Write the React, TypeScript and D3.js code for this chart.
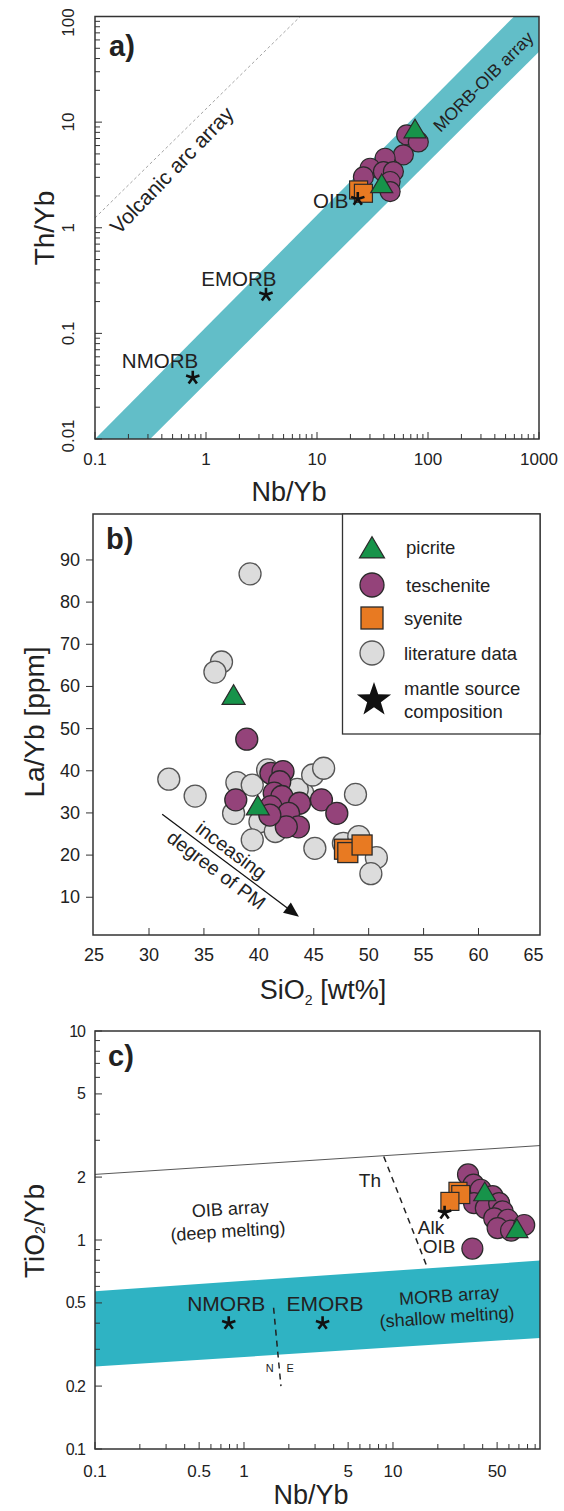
import React from 'react';
import * as d3 from 'd3';

const FONT = '"Liberation Sans", Arial, Helvetica, sans-serif';

// ---------- Panel a: Th/Yb vs Nb/Yb ----------
const aTeschNb = [64.3, 81.8, 60, 41.1, 30.1, 39.7, 48.8, 45.6, 45.6, 26.2];
const aTeschTh = [7.57, 6.5, 4.9, 4.55, 3.66, 3.4, 3.4, 2.74, 2.2, 3.03];
const aPicNb = [76.4, 38.3];
const aPicTh = [8.43, 2.55];
const aSyeNb = [23.7, 26.2];
const aSyeTh = [2.28, 2.12];
const aSrcNames = ['NMORB', 'EMORB', 'OIB'];
const aSrcNb = [0.76, 3.47, 23.3];
const aSrcTh = [0.038, 0.232, 1.87];
const aBandNb = [0.1, 596, 1000, 1000, 0.314];
const aBandTh = [0.01, 100, 100, 46.5, 0.01];
const aArcNb = [0.1, 7.06];
const aArcTh = [1.24, 100];
const aTickLabels = ['0.1', '1', '10', '100', '1000'];
const aYTickLabels = ['0.01', '0.1', '1', '10', '100'];

// ---------- Panel b: La/Yb vs SiO2 ----------
const bLitSi = [39.2, 36.6, 36.0, 31.8, 34.2, 38.0, 39.4, 40.8, 37.7, 40.1, 39.4, 41.5, 44.0, 43.5, 44.9, 45.9, 45.1, 48.8, 47.7, 49.1, 50.7, 50.2];
const bLitLa = [86.7, 65.8, 63.4, 38.0, 34.0, 37.2, 36.6, 40.2, 29.9, 27.9, 23.6, 25.6, 34.7, 35.6, 39.0, 40.6, 21.6, 34.4, 22.8, 24.4, 19.4, 15.6];
const bTeschSi = [38.9, 37.9, 41.1, 42.2, 41.9, 41.4, 42.1, 41.1, 43.7, 42.7, 43.6, 42.5, 45.7, 47.1, 41.0];
const bTeschLa = [47.5, 33.1, 39.4, 39.8, 37.4, 34.7, 33.9, 31.5, 32.3, 29.9, 26.7, 26.7, 33.1, 29.9, 29.5];
const bPicSi = [37.7, 39.9];
const bPicLa = [57.7, 31.5];
const bSyeSi = [47.8, 48.1, 49.4];
const bSyeLa = [21.4, 20.6, 22.4];
const bArrowSi = [31.2, 43.65];
const bArrowLa = [29.7, 5.4];
const bXTicks = [25, 30, 35, 40, 45, 50, 55, 60, 65];
const bYTicks = [10, 20, 30, 40, 50, 60, 70, 80, 90];
const legendLabels = ['picrite', 'teschenite', 'syenite', 'literature data', 'mantle source', 'composition'];

// ---------- Panel c: TiO2/Yb vs Nb/Yb ----------
const cTeschNb = [31.9, 34.7, 38.8, 46.6, 35.0, 42.0, 51.6, 54.4, 47.8, 59, 50.4, 62, 76, 34.1];
const cTeschTi = [2.06, 1.84, 1.74, 1.62, 1.50, 1.42, 1.50, 1.37, 1.27, 1.25, 1.14, 1.11, 1.18, 0.91];
const cPicNb = [41.3, 67.9];
const cPicTi = [1.68, 1.12];
const cSyeNb = [27.3, 28.5, 24.1];
const cSyeTi = [1.71, 1.65, 1.53];
const cSrcNb = [0.79, 3.37, 22.2];
const cSrcTi = [0.40, 0.40, 1.35];
const cOibLineNb = [0.1, 97];
const cOibLineTi = [2.06, 2.83];
const cBandNb = [0.1, 97, 97, 0.1];
const cBandTi = [0.569, 0.797, 0.34, 0.248];
const cThLineNb = [8.67, 17.1];
const cThLineTi = [2.51, 0.73];
const cNELineNb = [1.58, 1.77];
const cNELineTi = [0.474, 0.2];
const cXTickVals = [0.1, 0.5, 1, 5, 10, 50];
const cXTickLabels = ['0.1', '0.5', '1', '5', '10', '50'];
const cYTickVals = [0.1, 0.2, 0.5, 1, 2, 5, 10];
const cYTickLabels = ['0.1', '0.2', '0.5', '1', '2', '5', '10'];

const PURPLE = '#94437a';
const GREEN = '#17934a';
const ORANGE = '#e87a22';
const GREY = '#dcdcdc';
const STROKE = '#2a2a2a';
const AXIS = '#333';

const tri = (cx: number, cy: number, w: number) => {
  const h = w * 0.85;
  return `M${cx - w / 2},${cy + h * 0.42}L${cx + w / 2},${cy + h * 0.42}L${cx},${cy - h * 0.58}Z`;
};

const starPath = (cx: number, cy: number, R: number, r: number) => {
  const pts: string[] = [];
  for (let i = 0; i < 10; i++) {
    const a = -Math.PI / 2 + (i * Math.PI) / 5;
    const rr = i % 2 === 0 ? R : r;
    pts.push(`${cx + rr * Math.cos(a)},${cy + rr * Math.sin(a)}`);
  }
  return 'M' + pts.join('L') + 'Z';
};

const Asterisk = ({ x, y, s = 7 }: { x: number; y: number; s?: number }) => {
  let d = '';
  for (let k = 0; k < 5; k++) {
    const a = -Math.PI / 2 + (k * 2 * Math.PI) / 5;
    d += `M${x},${y}L${x + s * Math.cos(a)},${y + s * Math.sin(a)}`;
  }
  return <path d={d} stroke="#111" strokeWidth={2.6} strokeLinecap="butt" fill="none" />;
};

function PanelA() {
  const L = 95, R = 539, T = 16.5, B = 439;
  const x = d3.scaleLog().domain([0.1, 1000]).range([L, R]);
  const y = d3.scaleLog().domain([0.01, 100]).range([B, T]);
  const xt = x.ticks();
  const yt = y.ticks();
  const band = aBandNb.map((v, i) => [x(v), y(aBandTh[i])] as [number, number]);
  const lbl = (v: number) => Math.abs(Math.log10(v) - Math.round(Math.log10(v))) < 1e-6;
  return (
    <g>
      <defs>
        <clipPath id="clipA"><rect x={L} y={T} width={R - L} height={B - T} /></clipPath>
      </defs>
      <g clipPath="url(#clipA)">
        <path d={d3.line()(band)! + 'Z'} fill="#62bec8" />
        <line x1={x(aArcNb[0])} y1={y(aArcTh[0])} x2={x(aArcNb[1])} y2={y(aArcTh[1])} stroke="#9a9a9a" strokeWidth={0.9} strokeDasharray="3,2.5" />
      </g>
      {xt.map((v, i) => (
        <line key={'xt' + i} x1={x(v)} x2={x(v)} y1={B} y2={B - (lbl(v) ? 7 : 5)} stroke={AXIS} strokeWidth={1} />
      ))}
      {yt.map((v, i) => (
        <line key={'yt' + i} x1={L} x2={L + (lbl(v) ? 7 : 5)} y1={y(v)} y2={y(v)} stroke={AXIS} strokeWidth={1} />
      ))}
      <rect x={L} y={T} width={R - L} height={B - T} fill="none" stroke={AXIS} strokeWidth={1.5} />
      {[0.1, 1, 10, 100, 1000].map((v, i) => (
        <text key={'xl' + i} x={x(v)} y={465} textAnchor="middle" fontSize={17} fontFamily={FONT} fill="#222">{aTickLabels[i]}</text>
      ))}
      {[0.01, 0.1, 1, 10, 100].map((v, i) => {
        const yy = Math.min(Math.max(y(v), T + 6), B - 3);
        return (
          <text key={'yl' + i} transform={`translate(74,${yy}) rotate(-90)`} textAnchor="middle" fontSize={17} fontFamily={FONT} fill="#222">{aYTickLabels[i]}</text>
        );
      })}
      <text transform={`translate(54,228) rotate(-90)`} textAnchor="middle" fontSize={28} fontFamily={FONT} fill="#222">Th/Yb</text>
      <text x={289} y={501} textAnchor="middle" fontSize={27} fontFamily={FONT} fill="#222">Nb/Yb</text>
      <text x={L + 14} y={T + 39} fontSize={29} fontWeight="bold" fontFamily={FONT} fill="#222">a)</text>
      <text transform={`translate(${x(0.49)},${y(3.52)}) rotate(-46)`} textAnchor="middle" dominantBaseline="central" fontSize={21} fontFamily={FONT} fill="#222">Volcanic arc array</text>
      <text transform={`translate(${x(315)},${y(24.1)}) rotate(-45)`} textAnchor="middle" dominantBaseline="central" fontSize={17.5} fontFamily={FONT} fill="#222">MORB-OIB array</text>
      {aTeschNb.map((v, i) => (
        <circle key={'ac' + i} cx={x(v)} cy={y(aTeschTh[i])} r={10} fill={PURPLE} stroke={STROKE} strokeWidth={1.2} />
      ))}
      {aSyeNb.map((v, i) => (
        <rect key={'as' + i} x={x(v) - 9} y={y(aSyeTh[i]) - 9} width={18} height={18} fill={ORANGE} stroke={STROKE} strokeWidth={1.2} />
      ))}
      {aPicNb.map((v, i) => (
        <path key={'at' + i} d={tri(x(v), y(aPicTh[i]), 22)} fill={GREEN} stroke={STROKE} strokeWidth={1.2} />
      ))}
      {aSrcNb.map((v, i) => (
        <Asterisk key={'aa' + i} x={x(v)} y={y(aSrcTh[i])} />
      ))}
      <text x={x(0.385)} y={y(0.055)} textAnchor="middle" dominantBaseline="central" fontSize={20.5} fontFamily={FONT} fill="#222">{aSrcNames[0]}</text>
      <text x={x(1.98)} y={y(0.332)} textAnchor="middle" dominantBaseline="central" fontSize={20.5} fontFamily={FONT} fill="#222">{aSrcNames[1]}</text>
      <text x={x(13.3)} y={y(1.83)} textAnchor="middle" dominantBaseline="central" fontSize={20.5} fontFamily={FONT} fill="#222">{aSrcNames[2]}</text>
    </g>
  );
}

function PanelB() {
  const L = 93, R = 540, T = 514, B = 935;
  const x = d3.scaleLinear().domain([24.9, 65.6]).range([L, R]);
  const y = d3.scaleLinear().domain([1.05, 100.9]).range([B, T]);
  const ax1 = x(bArrowSi[0]), ay1 = y(bArrowLa[0]), ax2 = x(bArrowSi[1]), ay2 = y(bArrowLa[1]);
  const ang = Math.atan2(ay2 - ay1, ax2 - ax1);
  const deg = (ang * 180) / Math.PI;
  const hl = 15, hw = 6.5;
  const bx = ax2 - hl * Math.cos(ang), by = ay2 - hl * Math.sin(ang);
  const head = `M${ax2},${ay2}L${bx + hw * Math.sin(ang)},${by - hw * Math.cos(ang)}L${bx - hw * Math.sin(ang)},${by + hw * Math.cos(ang)}Z`;
  const lgX = 342.5, lgSym = 372, lgTxt = 404;
  return (
    <g>
      {bYTicks.map((v, i) => (
        <g key={'yt' + i}>
          <line x1={L - 7} x2={L} y1={y(v)} y2={y(v)} stroke={AXIS} strokeWidth={1} />
          <text x={80} y={y(v)} textAnchor="end" dominantBaseline="central" fontSize={18} fontFamily={FONT} fill="#222">{v}</text>
        </g>
      ))}
      {bXTicks.map((v, i) => (
        <g key={'xt' + i}>
          {i > 0 && i < bXTicks.length - 1 && <line x1={x(v)} x2={x(v)} y1={B} y2={B - 7} stroke={AXIS} strokeWidth={1} />}
          <text x={x(v)} y={955} textAnchor="middle" dominantBaseline="central" fontSize={18} fontFamily={FONT} fill="#222">{v}</text>
        </g>
      ))}
      <rect x={L} y={T} width={R - L} height={B - T} fill="none" stroke={AXIS} strokeWidth={1.5} />
      <text transform={`translate(34,722) rotate(-90)`} textAnchor="middle" dominantBaseline="central" fontSize={28} fontFamily={FONT} fill="#222">La/Yb [ppm]</text>
      <text x={323} y={999} textAnchor="middle" fontSize={27} fontFamily={FONT} fill="#222">SiO<tspan fontSize={14} dy={6}>2</tspan><tspan dy={-6}> [wt%]</tspan></text>
      <text x={L + 13} y={T + 35} fontSize={29} fontWeight="bold" fontFamily={FONT} fill="#222">b)</text>
      {bLitSi.map((v, i) => (
        <circle key={'bl' + i} cx={x(v)} cy={y(bLitLa[i])} r={11} fill={GREY} stroke="#555" strokeWidth={1.3} />
      ))}
      {bTeschSi.map((v, i) => (
        <circle key={'bc' + i} cx={x(v)} cy={y(bTeschLa[i])} r={11} fill={PURPLE} stroke={STROKE} strokeWidth={1.3} />
      ))}
      {bPicSi.map((v, i) => (
        <path key={'bt' + i} d={tri(x(v), y(bPicLa[i]), 23)} fill={GREEN} stroke={STROKE} strokeWidth={1.2} />
      ))}
      {bSyeSi.map((v, i) => (
        <rect key={'bs' + i} x={x(v) - 10} y={y(bSyeLa[i]) - 10} width={20} height={20} fill={ORANGE} stroke={STROKE} strokeWidth={1.3} />
      ))}
      <line x1={ax1} y1={ay1} x2={bx} y2={by} stroke="#111" strokeWidth={1.3} />
      <path d={head} fill="#111" />
      <text transform={`translate(${x(37.5)},${y(21.2)}) rotate(${deg})`} textAnchor="middle" dominantBaseline="central" fontSize={19.5} fontFamily={FONT} fill="#222">inceasing</text>
      <text transform={`translate(${x(36.15)},${y(16.5)}) rotate(${deg})`} textAnchor="middle" dominantBaseline="central" fontSize={19.5} fontFamily={FONT} fill="#222">degree of PM</text>
      <rect x={lgX} y={T} width={R - lgX} height={220} fill="#fff" stroke={AXIS} strokeWidth={1.3} />
      <path d={tri(lgSym, 549, 25)} fill={GREEN} stroke={STROKE} strokeWidth={1.2} />
      <circle cx={lgSym} cy={585} r={12} fill={PURPLE} stroke={STROKE} strokeWidth={1.3} />
      <rect x={lgSym - 11} y={607} width={22} height={22} fill={ORANGE} stroke={STROKE} strokeWidth={1.3} />
      <circle cx={lgSym} cy={653} r={12} fill={GREY} stroke="#555" strokeWidth={1.3} />
      <path d={starPath(lgSym + 2, 700, 18, 7.2)} fill="#111" />
      {[547, 585, 618, 653, 688, 711].map((yy, i) => (
        <text key={'lg' + i} x={lgTxt + (i === 0 || i === 1 ? 2 : 0)} y={yy} dominantBaseline="central" fontSize={18.5} fontFamily={FONT} fill="#222">{legendLabels[i]}</text>
      ))}
    </g>
  );
}

function PanelC() {
  const L = 95, R = 540, T = 1031, B = 1449;
  const x = d3.scaleLog().domain([0.1, 97]).range([L, R]);
  const y = d3.scaleLog().domain([0.1, 10]).range([B, T]);
  const xt = x.ticks();
  const yt = y.ticks();
  const isMajX = (v: number) => cXTickVals.some((t) => Math.abs(t - v) / t < 1e-6);
  const isMajY = (v: number) => cYTickVals.some((t) => Math.abs(t - v) / t < 1e-6);
  const band = cBandNb.map((v, i) => [x(v), y(cBandTi[i])] as [number, number]);
  const rot = (Math.atan2(y(cBandTi[1]) - y(cBandTi[0]), x(cBandNb[1]) - x(cBandNb[0])) * 180) / Math.PI;
  const rot2 = (Math.atan2(y(cOibLineTi[1]) - y(cOibLineTi[0]), x(cOibLineNb[1]) - x(cOibLineNb[0])) * 180) / Math.PI;
  const T15 = { fontSize: 18, fontFamily: FONT, fill: '#222' };
  return (
    <g>
      <path d={d3.line()(band)! + 'Z'} fill="#2fb3c3" />
      <line x1={x(cOibLineNb[0])} y1={y(cOibLineTi[0])} x2={x(cOibLineNb[1])} y2={y(cOibLineTi[1])} stroke="#444" strokeWidth={0.9} />
      <line x1={x(cThLineNb[0])} y1={y(cThLineTi[0])} x2={x(cThLineNb[1])} y2={y(cThLineTi[1])} stroke="#222" strokeWidth={1.5} strokeDasharray="6,5" />
      <line x1={x(cNELineNb[0])} y1={y(cNELineTi[0])} x2={x(cNELineNb[1])} y2={y(cNELineTi[1])} stroke="#222" strokeWidth={1.5} strokeDasharray="6,5" />
      {xt.map((v, i) => (
        <line key={'xt' + i} x1={x(v)} x2={x(v)} y1={B} y2={B - (isMajX(v) ? 7 : 5)} stroke={AXIS} strokeWidth={1} />
      ))}
      {yt.map((v, i) => (
        <line key={'yt' + i} x1={L} x2={L + (isMajY(v) ? 7 : 5)} y1={y(v)} y2={y(v)} stroke={AXIS} strokeWidth={1} />
      ))}
      <rect x={L} y={T} width={R - L} height={B - T} fill="none" stroke={AXIS} strokeWidth={1.5} />
      {cXTickVals.map((v, i) => (
        <text key={'xl' + i} x={x(v)} y={1471} textAnchor="middle" dominantBaseline="central" fontSize={17} fontFamily={FONT} fill="#222">{cXTickLabels[i]}</text>
      ))}
      {cYTickVals.map((v, i) => (
        <text key={'yl' + i} x={85} y={y(v)} textAnchor="end" dominantBaseline="central" fontSize={16} letterSpacing={-1} fontFamily={FONT} fill="#222">{cYTickLabels[i]}</text>
      ))}
      <text transform={`translate(34,1231) rotate(-90)`} textAnchor="middle" dominantBaseline="central" fontSize={28} fontFamily={FONT} fill="#222">TiO<tspan fontSize={14} dy={6}>2</tspan><tspan dy={-6}>/Yb</tspan></text>
      <text x={311} y={1504} textAnchor="middle" fontSize={27} fontFamily={FONT} fill="#222">Nb/Yb</text>
      <text x={L + 13} y={T + 35} fontSize={29} fontWeight="bold" fontFamily={FONT} fill="#222">c)</text>
      <text x={x(7.0)} y={y(1.92)} textAnchor="middle" dominantBaseline="central" fontSize={19} fontFamily={FONT} fill="#222">Th</text>
      <text transform={`translate(${x(0.81)},${y(1.41)}) rotate(${rot2})`} textAnchor="middle" dominantBaseline="central" {...T15}>OIB array</text>
      <text transform={`translate(${x(0.78)},${y(1.10)}) rotate(${rot2})`} textAnchor="middle" dominantBaseline="central" {...T15}>(deep melting)</text>
      <text transform={`translate(${x(23.8)},${y(0.542)}) rotate(${rot})`} textAnchor="middle" dominantBaseline="central" {...T15}>MORB array</text>
      <text transform={`translate(${x(23.0)},${y(0.428)}) rotate(${rot})`} textAnchor="middle" dominantBaseline="central" {...T15}>(shallow melting)</text>
      <text x={x(0.76)} y={y(0.498)} textAnchor="middle" dominantBaseline="central" fontSize={21} fontFamily={FONT} fill="#222">NMORB</text>
      <text x={x(3.5)} y={y(0.498)} textAnchor="middle" dominantBaseline="central" fontSize={21} fontFamily={FONT} fill="#222">EMORB</text>
      <text x={x(18.0)} y={y(1.15)} textAnchor="middle" dominantBaseline="central" fontSize={19} fontFamily={FONT} fill="#222">Alk</text>
      <text x={x(20.4)} y={y(0.936)} textAnchor="middle" dominantBaseline="central" fontSize={19} fontFamily={FONT} fill="#222">OIB</text>
      <text x={x(1.49)} y={y(0.245)} textAnchor="middle" dominantBaseline="central" fontSize={11} fontFamily={FONT} fill="#222">N</text>
      <text x={x(2.04)} y={y(0.245)} textAnchor="middle" dominantBaseline="central" fontSize={11} fontFamily={FONT} fill="#222">E</text>
      {cTeschNb.map((v, i) => (
        <circle key={'cc' + i} cx={x(v)} cy={y(cTeschTi[i])} r={10.5} fill={PURPLE} stroke={STROKE} strokeWidth={1.2} />
      ))}
      {cSyeNb.map((v, i) => (
        <rect key={'cs' + i} x={x(v) - 9} y={y(cSyeTi[i]) - 9} width={18} height={18} fill={ORANGE} stroke={STROKE} strokeWidth={1.2} />
      ))}
      {cPicNb.map((v, i) => (
        <path key={'ct' + i} d={tri(x(v), y(cPicTi[i]), 22)} fill={GREEN} stroke={STROKE} strokeWidth={1.2} />
      ))}
      {cSrcNb.map((v, i) => (
        <Asterisk key={'ca' + i} x={x(v)} y={y(cSrcTi[i])} />
      ))}
    </g>
  );
}

export default function App() {
  return (
    <svg width={564} height={1511} viewBox="0 0 564 1511" style={{ position: 'absolute', left: 0, top: 0, background: '#fff' }}>
      <rect x={0} y={0} width={564} height={1511} fill="#fff" />
      <PanelA />
      <PanelB />
      <PanelC />
    </svg>
  );
}
